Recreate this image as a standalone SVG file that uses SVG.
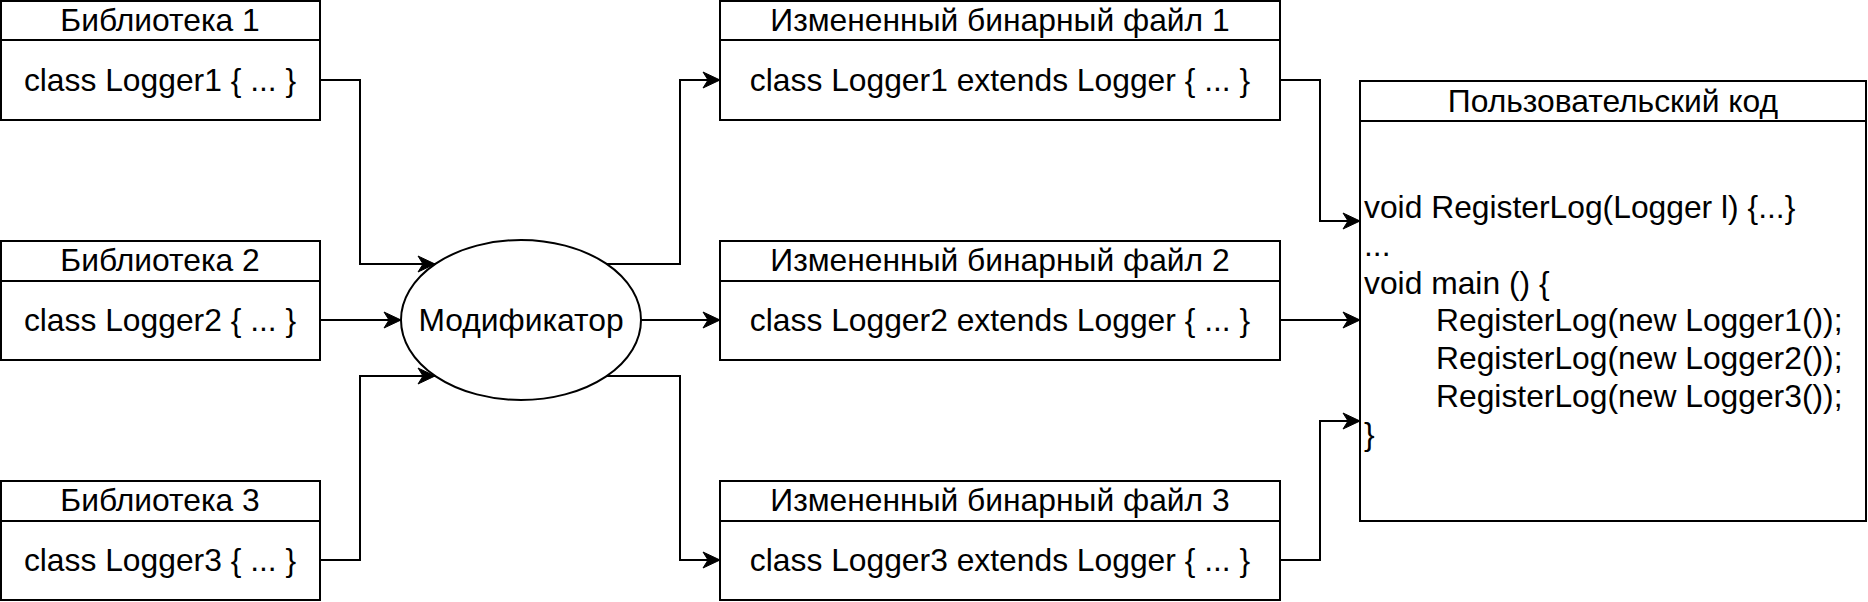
<svg xmlns="http://www.w3.org/2000/svg" width="1868" height="602" viewBox="0 0 1868 602">
<style>
.box{fill:#fff;stroke:#000;stroke-width:2}
.ln{fill:none;stroke:#000;stroke-width:2}
.t{font-family:"Liberation Sans",Arial,sans-serif;font-size:31.8px;fill:#000}
.c{text-anchor:middle}
.e{fill:none;stroke:#000;stroke-width:2}
</style>
<defs>
<marker id="arr" markerUnits="userSpaceOnUse" markerWidth="20" markerHeight="20" viewBox="-18 -10 20 20" refX="0" refY="0" orient="auto">
<path d="M0,0 L-17,-8 L-12,0 L-17,8 Z" fill="#000" stroke="#000" stroke-width="1"/>
</marker>
</defs>
<rect width="1868" height="602" fill="#fff"/>
<g id="lib1">
<rect class="box" x="1" y="1" width="319" height="119"/>
<line class="ln" x1="1" y1="40" x2="320" y2="40"/>
<text class="t c" x="160" y="31.4">Библиотека 1</text>
<text class="t c" x="160" y="91.4">class Logger1 { ... }</text>
</g>
<g id="lib2">
<rect class="box" x="1" y="241" width="319" height="119"/>
<line class="ln" x1="1" y1="281" x2="320" y2="281"/>
<text class="t c" x="160" y="271.4">Библиотека 2</text>
<text class="t c" x="160" y="331.4">class Logger2 { ... }</text>
</g>
<g id="lib3">
<rect class="box" x="1" y="481" width="319" height="119"/>
<line class="ln" x1="1" y1="521" x2="320" y2="521"/>
<text class="t c" x="160" y="511.4">Библиотека 3</text>
<text class="t c" x="160" y="571.4">class Logger3 { ... }</text>
</g>
<g id="mod">
<ellipse class="e" cx="521" cy="320" rx="120" ry="80"/>
<text class="t c" x="521" y="331.4">Модификатор</text>
</g>
<g id="bin1">
<rect class="box" x="720" y="1" width="560" height="119"/>
<line class="ln" x1="720" y1="40" x2="1280" y2="40"/>
<text class="t c" x="1000" y="31.4">Измененный бинарный файл 1</text>
<text class="t c" x="1000" y="91.4">class Logger1 extends Logger { ... }</text>
</g>
<g id="bin2">
<rect class="box" x="720" y="241" width="560" height="119"/>
<line class="ln" x1="720" y1="281" x2="1280" y2="281"/>
<text class="t c" x="1000" y="271.4">Измененный бинарный файл 2</text>
<text class="t c" x="1000" y="331.4">class Logger2 extends Logger { ... }</text>
</g>
<g id="bin3">
<rect class="box" x="720" y="481" width="560" height="119"/>
<line class="ln" x1="720" y1="521" x2="1280" y2="521"/>
<text class="t c" x="1000" y="511.4">Измененный бинарный файл 3</text>
<text class="t c" x="1000" y="571.4">class Logger3 extends Logger { ... }</text>
</g>
<g id="user">
<rect class="box" x="1360" y="81" width="506" height="440"/>
<line class="ln" x1="1360" y1="121" x2="1866" y2="121"/>
<text class="t c" x="1613" y="112.4">Пользовательский код</text>
<text class="t" x="1364" y="218">void RegisterLog(Logger l) {...}</text>
<text class="t" x="1364" y="255.8">...</text>
<text class="t" x="1364" y="293.6">void main () {</text>
<text class="t" x="1436" y="331.4">RegisterLog(new Logger1());</text>
<text class="t" x="1436" y="369.2">RegisterLog(new Logger2());</text>
<text class="t" x="1436" y="407">RegisterLog(new Logger3());</text>
<text class="t" x="1364" y="444.8">}</text>
</g>
<g id="connectors">
<path class="ln" d="M320,80 H360 V264 H435" marker-end="url(#arr)"/>
<path class="ln" d="M320,320 H401" marker-end="url(#arr)"/>
<path class="ln" d="M320,560 H360 V376 H435" marker-end="url(#arr)"/>
<path class="ln" d="M607,264 H680 V80 H720" marker-end="url(#arr)"/>
<path class="ln" d="M641,320 H720" marker-end="url(#arr)"/>
<path class="ln" d="M607,376 H680 V560 H720" marker-end="url(#arr)"/>
<path class="ln" d="M1280,80 H1320 V221 H1360" marker-end="url(#arr)"/>
<path class="ln" d="M1280,320 H1360" marker-end="url(#arr)"/>
<path class="ln" d="M1280,560 H1320 V421 H1360" marker-end="url(#arr)"/>
</g>
</svg>
